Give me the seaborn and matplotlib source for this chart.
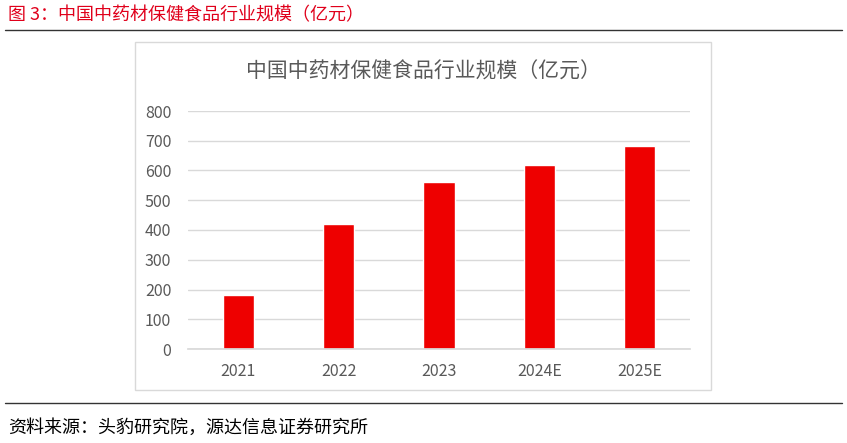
import matplotlib
matplotlib.use("Agg")
import matplotlib.pyplot as plt
import seaborn as sns
import pandas as pd
from matplotlib.patches import Rectangle
from matplotlib.lines import Line2D

years = ["2021", "2022", "2023", "2024E", "2025E"]
values = [180, 420, 560, 620, 682]

sns.set_theme(style="white")
plt.rcParams['font.family'] = ['Noto Sans CJK SC', 'DejaVu Sans']

W, H = 847, 443
fig = plt.figure(figsize=(W/100, H/100), dpi=100)
fx = lambda x: x / W
fy = lambda y: 1 - y / H

fig.text(fx(8), fy(15), "图 3：中国中药材保健食品行业规模（亿元）", color="#E0001B",
         fontsize=13, va="center", ha="left")
fig.add_artist(Line2D([fx(5), fx(842)], [fy(30), fy(30)], color="#333333", lw=1))
fig.add_artist(Line2D([fx(5), fx(842)], [fy(403), fy(403)], color="#333333", lw=1))
fig.text(fx(8), fy(428), "资料来源：头豹研究院，源达信息证券研究所", color="black",
         fontsize=13, va="center", ha="left")
fig.add_artist(Rectangle((fx(135), fy(390)), fx(711) - fx(135), fy(42) - fy(390),
                         transform=fig.transFigure, fill=False, edgecolor="#D9D9D9", lw=1))
fig.text(fx(423), fy(72), "中国中药材保健食品行业规模（亿元）", color="#595959",
         fontsize=15, va="center", ha="center")

ax = fig.add_axes([fx(188), fy(349), fx(690) - fx(188), fy(111) - fy(349)])
df = pd.DataFrame({"year": years, "value": values})
sns.barplot(data=df, x="year", y="value", color="#EE0000", saturation=1, width=0.31, ax=ax)
ax.set_ylim(0, 800)
ax.set_yticks(range(0, 801, 100))
ax.grid(axis="y", color="#D9D9D9", lw=1)
ax.set_axisbelow(True)
for s in ["top", "right", "left"]:
    ax.spines[s].set_visible(False)
ax.spines["bottom"].set_color("#D9D9D9")
ax.set_xlabel("")
ax.set_ylabel("")
ax.tick_params(axis="both", colors="#595959", labelsize=11.5, length=0)
ax.tick_params(axis="x", pad=10)
ax.tick_params(axis="y", pad=12)
fig.savefig("out.png", dpi=100)
